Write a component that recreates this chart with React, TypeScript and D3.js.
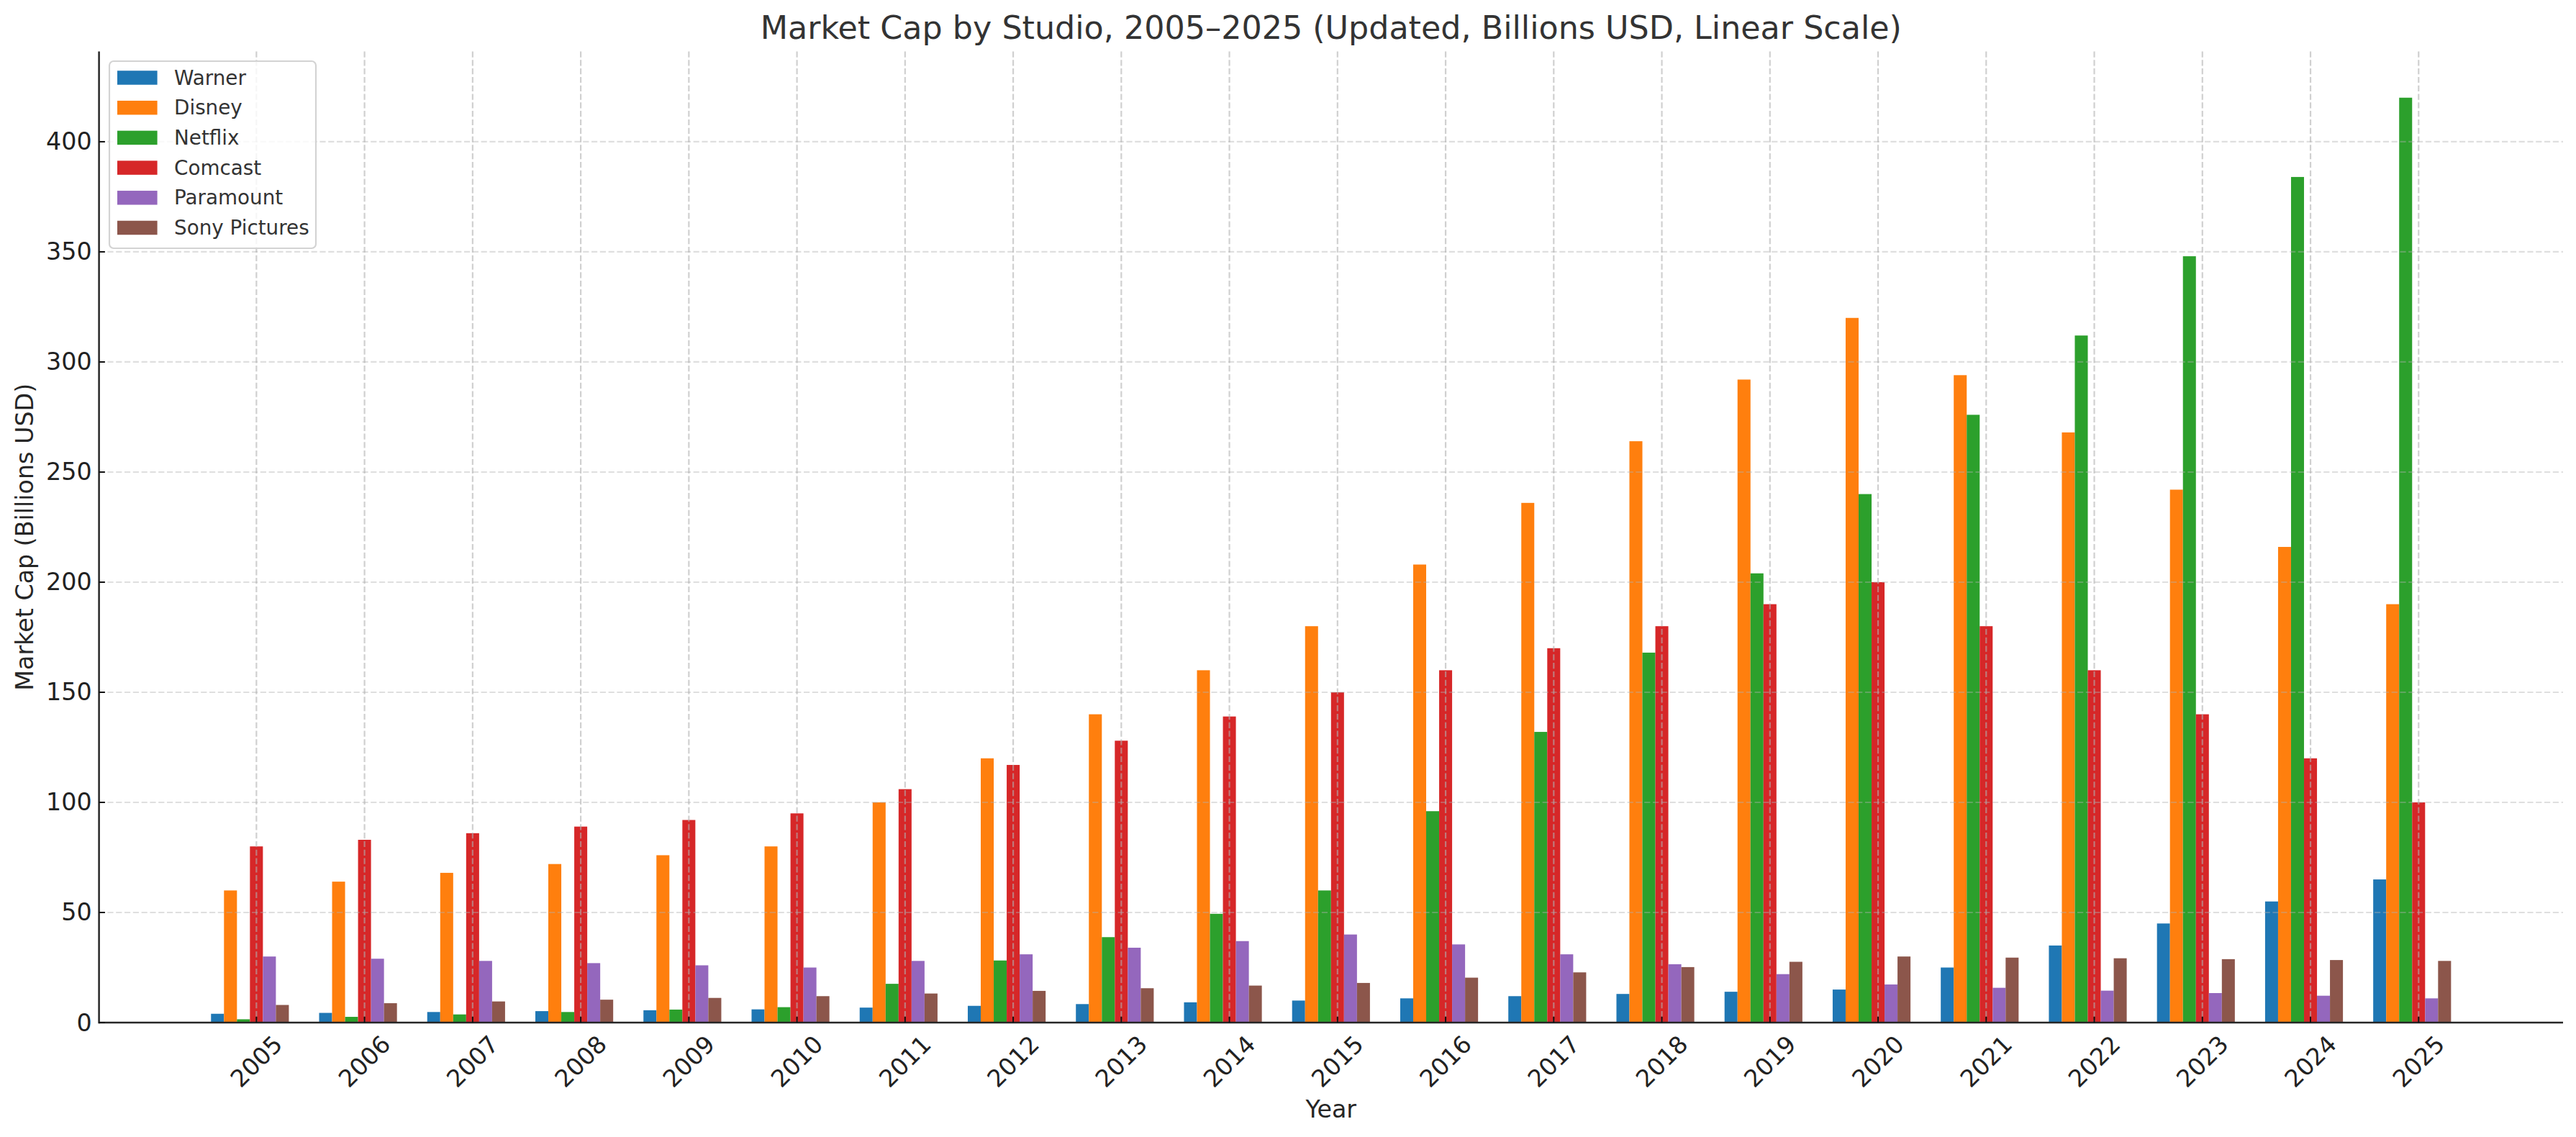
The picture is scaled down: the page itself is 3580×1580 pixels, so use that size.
import * as d3 from 'd3'

const YEARS = [
  '2005', '2006', '2007', '2008', '2009', '2010', '2011', '2012', '2013', '2014', '2015',
  '2016', '2017', '2018', '2019', '2020', '2021', '2022', '2023', '2024', '2025',
]

const STUDIOS = ['Warner', 'Disney', 'Netflix', 'Comcast', 'Paramount', 'Sony Pictures']
const COLORS = ['#1f77b4', '#ff7f0e', '#2ca02c', '#d62728', '#9467bd', '#8c564b']

// Billions USD
const WARNER = [4, 4.4, 4.8, 5.2, 5.6, 6, 6.8, 7.6, 8.4, 9.2, 10, 11, 12, 13, 14, 15, 25, 35, 45, 55, 65]
const DISNEY = [60, 64, 68, 72, 76, 80, 100, 120, 140, 160, 180, 208, 236, 264, 292, 320, 294, 268, 242, 216, 190]
const NETFLIX = [1.5, 2.6, 3.7, 4.8, 5.9, 7, 17.6, 28.2, 38.8, 49.4, 60, 96, 132, 168, 204, 240, 276, 312, 348, 384, 420]
const COMCAST = [80, 83, 86, 89, 92, 95, 106, 117, 128, 139, 150, 160, 170, 180, 190, 200, 180, 160, 140, 120, 100]
const PARAMOUNT = [30, 29, 28, 27, 26, 25, 28, 31, 34, 37, 40, 35.5, 31, 26.5, 22, 17.3, 15.8, 14.5, 13.4, 12.2, 11]
const SONY = [8, 8.8, 9.6, 10.4, 11.2, 12, 13.2, 14.4, 15.6, 16.8, 18, 20.4, 22.8, 25.2, 27.6, 30, 29.5, 29.2, 28.8, 28.4, 28]

const SERIES = [WARNER, DISNEY, NETFLIX, COMCAST, PARAMOUNT, SONY]
const Y_TICKS = [0, 50, 100, 150, 200, 250, 300, 350, 400]

const W = 3580
const H = 1580
const LEFT = 137.6
const RIGHT = 3562
const TOP = 71.5
const BOTTOM = 1421
const BAR_W = 0.12
const FONT = '"DejaVu Sans", Verdana, sans-serif'

export default function App() {
  const n = YEARS.length
  const lo = -BAR_W / 2
  const hi = n - 1 + (SERIES.length - 1) * BAR_W + BAR_W / 2
  const pad = (hi - lo) * 0.05
  const x = d3.scaleLinear().domain([lo - pad, hi + pad]).range([LEFT, RIGHT])
  const yMax = (d3.max(SERIES.flat()) ?? 0) * 1.05
  const y = d3.scaleLinear().domain([0, yMax]).range([BOTTOM, TOP])
  const bw = x(BAR_W) - x(0)
  // matplotlib-style ticks sit at x + width * 3
  const tickX = (i: number) => x(i + BAR_W * 3)

  return (
    <svg
      width={W}
      height={H}
      viewBox={`0 0 ${W} ${H}`}
      style={{ position: 'absolute', left: 0, top: 0, background: '#fff' }}
      fontFamily={FONT}
    >
      <rect width={W} height={H} fill="#fff" />

      {/* bars */}
      {SERIES.map((vals, j) => (
        <g key={STUDIOS[j]} fill={COLORS[j]}>
          {vals.map((v, i) => (
            <rect
              key={i}
              x={x(i + j * BAR_W) - bw / 2}
              y={y(v)}
              width={bw}
              height={BOTTOM - y(v)}
            />
          ))}
        </g>
      ))}

      {/* grid, drawn over the bars */}
      <g stroke="#b0b0b0" strokeWidth={2.2} strokeDasharray="8.2 3.6" fill="none">
        {YEARS.map((yr, i) => (
          <line key={yr} x1={tickX(i)} x2={tickX(i)} y1={TOP} y2={BOTTOM} strokeOpacity={0.6} />
        ))}
        {Y_TICKS.filter(t => t > 0).map(t => (
          <line key={t} x1={LEFT} x2={RIGHT} y1={y(t)} y2={y(t)} strokeOpacity={0.4} />
        ))}
      </g>

      {/* spines */}
      <line x1={LEFT} x2={LEFT} y1={TOP} y2={BOTTOM + 1.2} stroke="#262626" strokeWidth={2.5} />
      <line x1={LEFT} x2={RIGHT} y1={BOTTOM} y2={BOTTOM} stroke="#262626" strokeWidth={2.5} />

      {/* y ticks */}
      <g>
        {Y_TICKS.map(t => (
          <g key={t}>
            <line x1={LEFT} x2={LEFT + 8.3} y1={y(t)} y2={y(t)} stroke="#111" strokeWidth={2} />
            <text
              x={LEFT - 10}
              y={y(t)}
              textAnchor="end"
              dominantBaseline="central"
              fontSize={33.3}
              fill="#222"
            >
              {t}
            </text>
          </g>
        ))}
      </g>

      {/* x ticks */}
      <g>
        {YEARS.map((yr, i) => (
          <g key={yr}>
            <line x1={tickX(i)} x2={tickX(i)} y1={BOTTOM} y2={BOTTOM - 8.3} stroke="#111" strokeWidth={2} />
            <text
              transform={`translate(${tickX(i)},${BOTTOM + 54}) rotate(-45)`}
              textAnchor="middle"
              dominantBaseline="central"
              fontSize={33.3}
              fill="#222"
            >
              {yr}
            </text>
          </g>
        ))}
      </g>

      {/* axis labels and title */}
      <text x={(LEFT + RIGHT) / 2} y={1541} textAnchor="middle" dominantBaseline="central" fontSize={33.3} fill="#262626">
        Year
      </text>
      <text
        transform={`translate(34,${(TOP + BOTTOM) / 2}) rotate(-90)`}
        textAnchor="middle"
        dominantBaseline="central"
        fontSize={33.3}
        fill="#262626"
      >
        Market Cap (Billions USD)
      </text>
      <text x={(LEFT + RIGHT) / 2} y={54} textAnchor="middle" fontSize={44.4} fill="#333">
        Market Cap by Studio, 2005–2025 (Updated, Billions USD, Linear Scale)
      </text>

      {/* legend */}
      <g>
        <rect
          x={152}
          y={85}
          width={287}
          height={260}
          rx={6}
          fill="#fff"
          fillOpacity={0.8}
          stroke="#d3d3d3"
          strokeWidth={2.2}
        />
        {STUDIOS.map((s, k) => {
          const cy = 108 + k * 41.7
          return (
            <g key={s}>
              <rect x={163} y={cy - 9.75} width={55.6} height={19.5} fill={COLORS[k]} />
              <text x={242} y={cy} dominantBaseline="central" fontSize={27.8} fill="#333">
                {s}
              </text>
            </g>
          )
        })}
      </g>
    </svg>
  )
}
